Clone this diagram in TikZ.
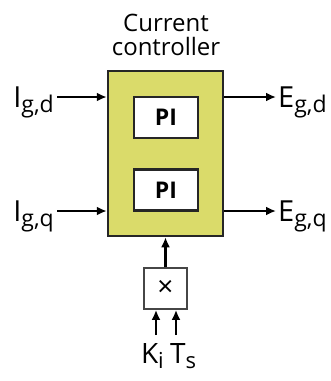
\documentclass[tikz,border=0pt]{standalone}
\usepackage{fontspec}
\setmainfont{Open Sans}
\usetikzlibrary{arrows.meta}
\definecolor{ctrlfill}{RGB}{218,219,106}
\definecolor{mulgray}{RGB}{70,70,70}
\newcommand{\subl}[3]{#2\raisebox{-0.2em}{\fontsize{#1}{#1}\selectfont #3}}
\begin{document}
\begin{tikzpicture}[x=1pt,y=-1pt,
  ctrl/.style={draw=black!85,line width=2.5pt,fill=ctrlfill},
  pibox/.style={draw=black!85,line width=2.5pt,fill=white,minimum width=64pt,minimum height=41pt,font=\fontsize{23}{23}\selectfont\bfseries},
  mulbox/.style={draw=mulgray,line width=1.8pt,fill=white,minimum width=43pt,minimum height=41pt,font=\fontsize{28}{28}\selectfont},
  sig/.style={line width=2.5pt,-{Latex[length=10pt,width=9pt]}},
  lbl/.style={font=\fontsize{29}{29}\selectfont,inner sep=0pt},
  slbl/.style={font=\fontsize{28}{28}\selectfont,inner sep=0pt},
  ttl/.style={font=\fontsize{24}{24}\selectfont,align=center,inner sep=0pt}]
\useasboundingbox (0,0) rectangle (331,381);
\node[ctrl,minimum width=115pt,minimum height=165pt,inner sep=0pt] (cc) at (165.5,153.5) {};
\node[pibox] (pi1) at (166,117.5) {PI};
\node[pibox] (pi2) at (166,190) {PI};
\node[mulbox] (mul) at (165.5,288.5) {×};
\node[ttl] (title) at (166,35) {Current\\controller};
\node[lbl,anchor=base east] (igd) at (54,107) {\subl{23}{I}{g,d}};
\node[lbl,anchor=base east] (igq) at (54,221) {\subl{23}{I}{g,q}};
\node[lbl,anchor=base west] (egd) at (278,107) {\subl{23}{E}{g,d}};
\node[lbl,anchor=base west] (egq) at (278,221) {\subl{23}{E}{g,q}};
\node[slbl,anchor=base east] (ki) at (164,363) {\subl{22}{K}{i}};
\node[slbl,anchor=base west] (ts) at (170,363) {\subl{22}{T}{s}};
\coordinate (kin) at (156,335);
\coordinate (tin) at (176,335);
\coordinate (igdo) at (57,97);
\coordinate (igqo) at (57,211);
\coordinate (egde) at (276,97);
\coordinate (egqe) at (276,211);
\draw[sig] (igdo) -- (cc.west |- igdo);
\draw[sig] (igqo) -- (cc.west |- igqo);
\draw[sig] (cc.east |- egde) -- (egde);
\draw[sig] (cc.east |- egqe) -- (egqe);
\draw[sig] (mul.north) -- (cc.south -| mul.north);
\draw[sig] (kin) -- (kin |- mul.south);
\draw[sig] (tin) -- (tin |- mul.south);
\end{tikzpicture}
\end{document}
